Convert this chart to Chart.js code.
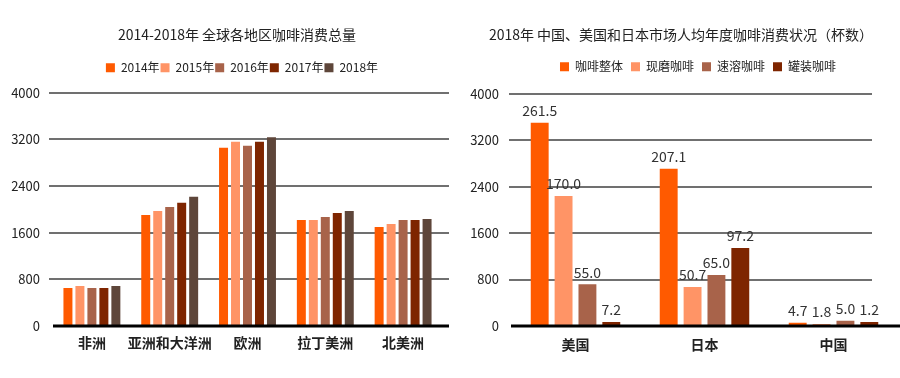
<!DOCTYPE html>
<html>
<head>
<meta charset="utf-8">
<script src="https://cdn.jsdelivr.net/npm/chart.js@4"></script>
<style>
    body { margin: 0; background: #fff; }
    .wrap { position: absolute; top: 0; width: 450px; height: 378px; }
    #left-wrap { left: 0; }
    #right-wrap { left: 450px; }
</style>
</head>
<body>
<div class="wrap" id="left-wrap"><canvas id="region-chart"></canvas></div>
<div class="wrap" id="right-wrap"><canvas id="cups-chart"></canvas></div>
<script>
// left chart: total consumption by region
const regions = ['非洲', '亚洲和大洋洲', '欧洲', '拉丁美洲', '北美洲'];
const years = ['2014年', '2015年', '2016年', '2017年', '2018年'];
const total2014 = [650, 1905, 3058, 1819, 1699];
const total2015 = [685, 1974, 3162, 1819, 1750];
const total2016 = [650, 2043, 3093, 1871, 1819];
const total2017 = [650, 2112, 3162, 1940, 1819];
const total2018 = [685, 2215, 3236, 1974, 1837];

// right chart: cups per person, bar heights as drawn and the printed labels
const markets = ['美国', '日本', '中国'];
const coffeeTypes = ['咖啡整体', '现磨咖啡', '速溶咖啡', '罐装咖啡'];
const overallBars = [3500, 2710, 57];
const groundBars = [2240, 670, 35];
const instantBars = [720, 880, 90];
const cannedBars = [70, 1345, 69];
const overallLabels = ['261.5', '207.1', '4.7'];
const groundLabels = ['170.0', '50.7', '1.8'];
const instantLabels = ['55.0', '65.0', '5.0'];
const cannedLabels = ['7.2', '97.2', '1.2'];

const yMin = 0;
const yMax = 4000;
const yStep = 800;

const colors = ['#FF5A00', '#FF9466', '#A8634A', '#7E2500', '#5E463A'];
const FONT = "'Noto Sans CJK SC', 'Noto Sans', sans-serif";

// grid lines and the black zero line, drawn by hand so they can run past the bars
const gridPlugin = {
    id: 'customGrid',
    beforeDatasetsDraw(chart, args, opts) {
        const { ctx, chartArea } = chart;
        const y = chart.scales.y;
        ctx.save();
        ctx.strokeStyle = '#707070';
        ctx.lineWidth = 2;
        y.ticks.forEach(t => {
            if (t.value === 0) return;
            const py = Math.round(y.getPixelForValue(t.value));
            ctx.beginPath();
            ctx.moveTo(chartArea.left - opts.leftExt, py);
            ctx.lineTo(chartArea.right + opts.rightExt, py);
            ctx.stroke();
        });
        ctx.restore();
    },
    afterDatasetsDraw(chart, args, opts) {
        const { ctx, chartArea } = chart;
        const py = chart.scales.y.getPixelForValue(0);
        ctx.save();
        ctx.strokeStyle = '#000';
        ctx.lineWidth = 3;
        ctx.beginPath();
        ctx.moveTo(chartArea.left, py);
        ctx.lineTo(chartArea.right + opts.baseExt, py);
        ctx.stroke();
        ctx.restore();
    }
};

// nudges title / legend sideways and adds room under the legend
const headerPlugin = {
    id: 'header',
    beforeInit(chart, args, opts) {
        const legend = chart.legend;
        const fit = legend.fit;
        legend.fit = function () {
            fit.call(this);
            this.height += opts.legendExtra;
        };
    },
    afterLayout(chart, args, opts) {
        chart.titleBlock.left += opts.titleDx;
        chart.titleBlock.right += opts.titleDx;
        chart.legend.left += opts.legendDx;
        chart.legend.right += opts.legendDx;
    }
};

// printed numbers above the bars of the right chart
const valueLabels = {
    id: 'valueLabels',
    afterDatasetsDraw(chart) {
        const { ctx } = chart;
        ctx.save();
        ctx.font = '14px ' + FONT;
        ctx.fillStyle = '#333';
        ctx.textAlign = 'center';
        ctx.textBaseline = 'bottom';
        chart.data.datasets.forEach((ds, i) => {
            if (!ds.valueLabels) return;
            chart.getDatasetMeta(i).data.forEach((bar, j) => {
                ctx.fillText(ds.valueLabels[j], bar.x, bar.y - 5);
            });
        });
        ctx.restore();
    }
};

function baseOptions(cfg) {
    return {
        responsive: true,
        maintainAspectRatio: false,
        animation: false,
        layout: { padding: { top: 26, right: cfg.padRight, bottom: 0, left: 0 } },
        datasets: { bar: { categoryPercentage: cfg.catPct, barPercentage: 0.75 } },
        plugins: {
            title: {
                display: true,
                text: cfg.title,
                color: '#222',
                font: { family: FONT, size: 14, weight: 'normal' },
                padding: { top: 0, bottom: cfg.titleGap }
            },
            legend: {
                labels: {
                    boxWidth: 9,
                    boxHeight: 9,
                    padding: cfg.legendPad,
                    color: '#222',
                    font: { family: FONT, size: 12 }
                }
            },
            tooltip: { enabled: false },
            customGrid: cfg.grid,
            header: cfg.header
        },
        scales: {
            x: {
                grid: { display: false },
                border: { display: false },
                ticks: {
                    color: '#222',
                    padding: cfg.xPad,
                    autoSkip: false,
                    maxRotation: 0,
                    minRotation: 0,
                    font: { family: FONT, size: 14, weight: 'bold' }
                },
                afterFit: scale => { scale.height = 52; }
            },
            y: {
                min: yMin,
                max: yMax,
                grid: { display: false },
                border: { display: false },
                ticks: {
                    stepSize: yStep,
                    color: '#222',
                    padding: cfg.yPad,
                    font: { family: FONT, size: 13 },
                    callback: value => String(value)
                },
                afterFit: scale => { scale.width = cfg.axisWidth; }
            }
        }
    };
}

document.addEventListener('DOMContentLoaded', () => {
    const leftSeries = [total2014, total2015, total2016, total2017, total2018];
    new Chart(document.getElementById('region-chart'), {
        type: 'bar',
        data: {
            labels: regions,
            datasets: leftSeries.map((values, i) => ({
                label: years[i],
                data: values,
                backgroundColor: colors[i]
            }))
        },
        options: baseOptions({
            title: '2014-2018年 全球各地区咖啡消费总量',
            padRight: 8, axisWidth: 53, yPad: 5, xPad: 0,
            titleGap: 18, legendPad: 1, catPct: 0.77,
            grid: { leftExt: 4, rightExt: 7, baseExt: 7 },
            header: { titleDx: 16, legendDx: 21, legendExtra: 9 }
        }),
        plugins: [gridPlugin, headerPlugin]
    });

    const rightBars = [overallBars, groundBars, instantBars, cannedBars];
    const rightLabels = [overallLabels, groundLabels, instantLabels, cannedLabels];
    new Chart(document.getElementById('cups-chart'), {
        type: 'bar',
        data: {
            labels: markets,
            datasets: rightBars.map((values, i) => ({
                label: coffeeTypes[i],
                data: values,
                backgroundColor: colors[i],
                valueLabels: rightLabels[i]
            }))
        },
        options: baseOptions({
            title: '2018年 中国、美国和日本市场人均年度咖啡消费状况（杯数）',
            padRight: 2, axisWidth: 61, yPad: 4, xPad: 2,
            titleGap: 10, legendPad: 8, catPct: 0.74,
            grid: { leftExt: 2, rightExt: -26, baseExt: 2 },
            header: { titleDx: 7, legendDx: 24, legendExtra: 11 }
        }),
        plugins: [gridPlugin, headerPlugin, valueLabels]
    });
});
</script>
</body>
</html>
